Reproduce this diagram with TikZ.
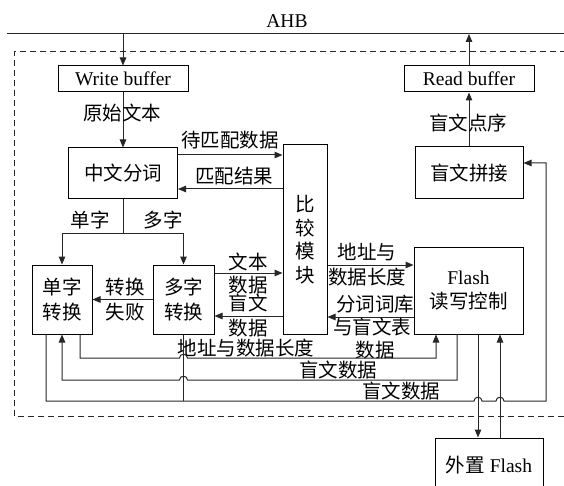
\documentclass[tikz,border=0pt]{standalone}
\usepackage{fontspec}
\setmainfont{Liberation Serif}
\newfontfamily\cjk{Noto Sans CJK SC}
\usetikzlibrary{arrows.meta}
\begin{document}
\begin{tikzpicture}[x=1pt,y=-1pt,
  every node/.style={font=\fontsize{19.5}{23.5}\selectfont, inner sep=0pt, align=center},
  box/.style={draw, line width=1pt},
  lbl/.style={font=\fontsize{19.5}{23.5}\selectfont\cjk},
  ln/.style={line width=1pt, draw=black!85},
  arr/.style={-{Triangle[length=8pt,width=6.5pt]}},
  dbox/.style={line width=1pt, draw=black!85, dash pattern=on 6pt off 4pt}]
\useasboundingbox (0,0) rectangle (564,486);

% bus and dashed frame
\coordinate (ahbL) at (7,34);
\coordinate (ahbR) at (564,34);
\draw[ln] (ahbL) -- (ahbR);
\node[lbl,font=\fontsize{19.5}{23.5}\selectfont] (ahb) at (287,21) {AHB};
\draw[dbox] (566,52) -- (14,52) -- (14,416) -- (566,416);

% boxes
\node[box, minimum width=130, minimum height=26] (wb) at (123,79) {Write buffer};
\node[box, minimum width=130, minimum height=26] (rb) at (469,79) {Read buffer};
\node[box, lbl, minimum width=109, minimum height=51] (zwfc) at (123,173.5) {中文分词};
\node[box, lbl, minimum width=44, minimum height=189] (bj) at (305,239.5) {比\\较\\模\\块};
\node[box, lbl, minimum width=108, minimum height=52] (mwpj) at (469,173) {盲文拼接};
\node[box, minimum width=109, minimum height=87] (flash) at (468.5,290.5) {Flash\\[1pt]{\cjk 读写控制}};
\node[box, lbl, minimum width=60, minimum height=69] (dz) at (62,299.5) {单字\\[1.5pt]转换};
\node[box, lbl, minimum width=61, minimum height=69] (duoz) at (183.5,299.5) {多字\\[1.5pt]转换};
\node[box, minimum width=108, minimum height=54] (wz) at (489,465) {{\cjk 外置} Flash};

% top connectors
\draw[ln,arr] (wb.north |- ahbL) -- (wb.north);
\draw[ln,arr] (rb.north) -- (rb.north |- ahbL);
\draw[ln,arr] (wb.south) -- (zwfc.north);
\draw[ln,arr] (mwpj.north) -- (rb.south);
\node[lbl] (l1) at (122,113) {原始文本};
\node[lbl] (l2) at (468,123) {盲文点序};

\draw[ln,arr] (zwfc.east |- 0,155) -- (bj.west |- 0,155);
\draw[ln,arr] (bj.west |- 0,189) -- (zwfc.east |- 0,189);
\node[lbl] (l3) at (230,140) {待匹配数据};
\node[lbl] (l4) at (234,176) {匹配结果};

\draw[ln] (zwfc.south) -- (zwfc.south |- 0,233) coordinate (br);
\draw[ln,arr] (br) -| (dz.north);
\draw[ln,arr] (br) -| (duoz.north);
\node[lbl] (l5) at (90,220) {单字};
\node[lbl] (l6) at (163,220) {多字};

\draw[ln,arr] (duoz.west) -- (dz.east);
\node[lbl] (l7) at (125,287) {转换};
\node[lbl] (l8) at (125,312) {失败};

\draw[ln,arr] (duoz.east |- 0,273) -- (bj.west |- 0,273);
\draw[ln,arr] (bj.west |- 0,316) -- (duoz.east |- 0,316);
\node[lbl] (l9) at (248,262) {文本};
\node[lbl] (l10) at (248,285) {数据};
\node[lbl] (l11) at (248,303) {盲文};
\node[lbl] (l12) at (248,328) {数据};

\draw[ln,arr] (bj.east |- 0,265) -- (flash.west |- 0,265);
\draw[ln,arr] (flash.west |- 0,317) -- (bj.east |- 0,317);
\node[lbl] (l13) at (367,252) {地址与};
\node[lbl] (l14) at (367,277) {数据长度};
\node[lbl] (l15) at (375,304) {分词词库};
\node[lbl] (l16) at (372,327) {与盲文表};
\node[lbl] (l17) at (375,350) {数据};

% bottom connectors
\draw[ln,arr] (dz.south -| 80,0) -- (80,358) -- (179.5,358)
  .. controls (179.5,353) and (187.5,353) .. (187.5,358)
  -- (436,358) -- (flash.south -| 436,0);
\node[lbl] (l18) at (246,348) {地址与数据长度};

\draw[ln,arr] (flash.south -| 457,0) -- (457,380) -- (187.5,380)
  .. controls (187.5,375) and (179.5,375) .. (179.5,380)
  -- (62,380) -- (dz.south);
\node[lbl] (l19) at (338,370) {盲文数据};

\draw[ln,arr] (dz.south -| 46,0) -- (46,401) -- (474,401)
  .. controls (474,396) and (482,396) .. (482,401) -- (496,401)
  .. controls (496,396) and (504,396) .. (504,401)
  -- (546,401) -- (546,163) -- (mwpj.east |- 0,163);
\node[lbl] (l20) at (401,391) {盲文数据};
\draw[ln] (duoz.south) -- (duoz.south |- 0,401);

\draw[ln,arr] (flash.south -| 478,0) -- (wz.north -| 478,0);
\draw[ln,arr] (wz.north -| 500,0) -- (flash.south -| 500,0);
\end{tikzpicture}
\end{document}
